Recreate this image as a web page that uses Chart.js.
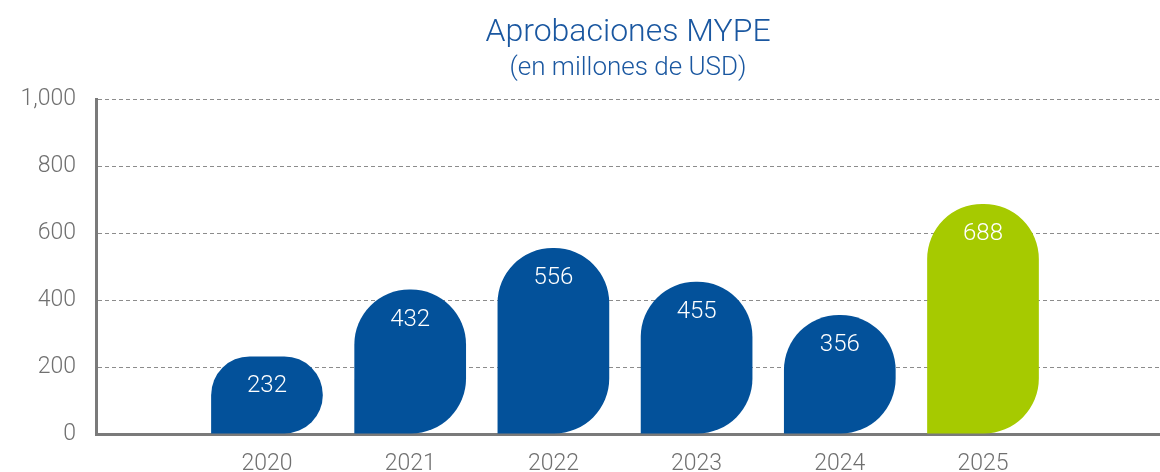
<!DOCTYPE html>
<html>
<head>
<meta charset="utf-8">
<script src="https://cdn.jsdelivr.net/npm/chart.js@4"></script>
<style>
  html, body { margin: 0; padding: 0; background: #fff; }
  #wrap { width: 1160px; height: 472px; }
</style>
</head>
<body>
<div id="wrap"><canvas id="chartMype"></canvas></div>
<script>
const years = ['2020', '2021', '2022', '2023', '2024', '2025'];
const approvals = [232, 432, 556, 455, 356, 688];
const barColors = ['#03519a', '#03519a', '#03519a', '#03519a', '#03519a', '#a6ca00'];
const yTicks = [0, 200, 400, 600, 800, 1000];

const textGray = '#707070';
const titleBlue = '#1a57a0';

// white value labels inside the top of each bar
const barLabels = {
    id: 'barLabels',
    afterDatasetsDraw(chart) {
        const ctx = chart.ctx;
        const meta = chart.getDatasetMeta(0);
        ctx.save();
        ctx.fillStyle = '#ffffff';
        ctx.font = '300 24px Roboto';
        ctx.textAlign = 'center';
        ctx.textBaseline = 'middle';
        meta.data.forEach((bar, i) => {
            ctx.fillText(approvals[i], bar.x, bar.y + 30);
        });
        ctx.restore();
    }
};

const ctxMype = document.getElementById('chartMype').getContext('2d');
const chartMype = new Chart(ctxMype, {
    type: 'bar',
    data: {
        datasets: [{
            data: years.map((y, i) => ({ x: Number(y), y: approvals[i] })),
            backgroundColor: barColors,
            borderRadius: { topLeft: 55, topRight: 55, bottomRight: 55, bottomLeft: 0 },
            borderSkipped: false,
            categoryPercentage: 1,
            barPercentage: 0.78
        }]
    },
    options: {
        responsive: true,
        maintainAspectRatio: false,
        animation: false,
        layout: { padding: { left: 0, right: 0, top: 0, bottom: 0 } },
        plugins: {
            legend: { display: false },
            tooltip: { enabled: false },
            title: {
                display: true,
                text: 'Aprobaciones MYPE',
                color: titleBlue,
                fullSize: false,
                font: { family: 'Roboto', size: 32, weight: 300 },
                padding: { top: 14, bottom: 0 }
            },
            subtitle: {
                display: true,
                text: '(en millones de USD)',
                color: titleBlue,
                fullSize: false,
                font: { family: 'Roboto', size: 26, weight: 300 },
                padding: { top: 0, bottom: 16 }
            }
        },
        scales: {
            x: {
                type: 'linear',
                offset: false,
                min: 2018.806,
                max: 2026.236,
                afterBuildTicks: s => { s.ticks = years.map(y => ({ value: Number(y) })); },
                afterFit: s => { s.height = 38; },
                ticks: {
                    callback: v => String(v),
                    color: textGray,
                    font: { family: 'Roboto', size: 23, weight: 300 },
                    padding: 16,
                    maxRotation: 0,
                    autoSkip: false
                },
                grid: { display: false, drawTicks: false },
                border: { display: true, color: '#7a7a7a', width: 3 }
            },
            y: {
                min: 0,
                max: 1000,
                afterBuildTicks: s => { s.ticks = yTicks.map(v => ({ value: v })); },
                afterFit: s => { s.width = 96; },
                ticks: {
                    color: textGray,
                    font: { family: 'Roboto', size: 23, weight: 300 },
                    padding: 20
                },
                grid: { color: '#8c8c8c', lineWidth: 1, drawTicks: false },
                border: { display: true, color: '#7a7a7a', width: 3, dash: [4, 3] }
            }
        }
    },
    plugins: [barLabels]
});
</script>
</body>
</html>
